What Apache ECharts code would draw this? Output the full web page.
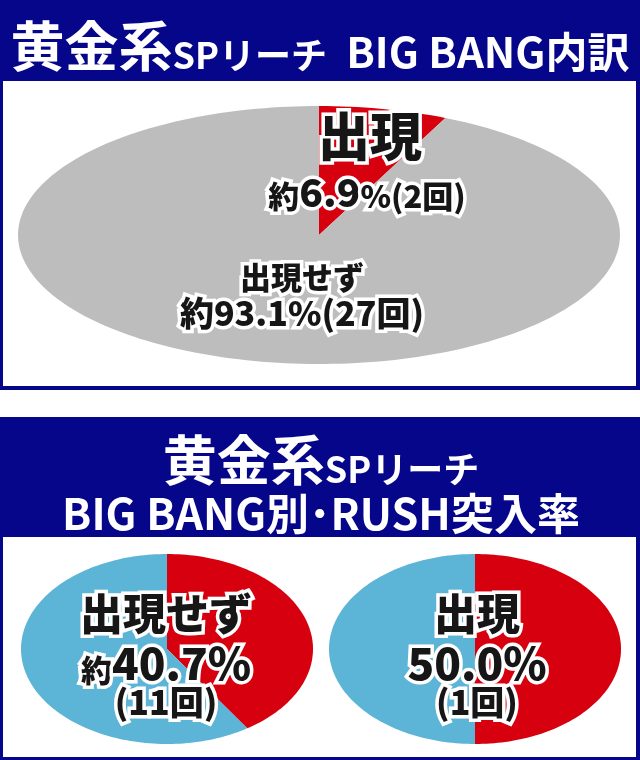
<!DOCTYPE html>
<html>
<head>
<meta charset="utf-8">
<script src="https://cdn.jsdelivr.net/npm/echarts@6/dist/echarts.min.js"></script>
<style>
body{margin:0;background:#fff}
#main{width:640px;height:760px}
</style>
</head>
<body>
<div id="main"></div>
<script>
// data
var topNames = ['出現', '出現せず'];
var topCounts = [2, 27];
var rushNames = ['出現せず', '出現'];
var rushIn = [11, 1];
var rushTotal = [27, 2];

var NAVY = '#06068a', RED = '#d6000f', GRAY = '#bdbdbd', BLUE = '#5cb4d6';
var FONT = "'Noto Sans CJK JP', 'Noto Sans', sans-serif";

function pct(a, b) { return (a / b * 100).toFixed(1); }

function slices(counts, colors) {
	var total = 0, acc = 0;
	counts.forEach(function (c) { total += c; });
	return counts.map(function (c, i) {
		var s = acc / total;
		acc += c;
		return { value: [s, acc / total], itemStyle: { color: colors[i] } };
	});
}

// one slice of an ellipse pie: unit circle in data space, stretched by the grid
function sliceItem(params, api) {
	var start = api.value(0), end = api.value(1);
	var pts = [api.coord([0, 0])];
	var steps = Math.max(2, Math.ceil((end - start) * 240));
	for (var i = 0; i <= steps; i++) {
		var a = 2 * Math.PI * (start + (end - start) * i / steps);
		pts.push(api.coord([Math.sin(a), Math.cos(a)]));
	}
	return { type: 'polygon', shape: { points: pts }, style: { fill: api.visual('color') } };
}

var pies = [
	{ cx: 319, cy: 235, rx: 301, ry: 129, data: slices(topCounts, [RED, GRAY]) },
	{ cx: 167, cy: 649, rx: 146, ry: 95, data: slices([rushIn[0], rushTotal[0] - rushIn[0]], [RED, BLUE]) },
	{ cx: 475, cy: 649, rx: 146, ry: 95, data: slices([rushIn[1], rushTotal[1] - rushIn[1]], [RED, BLUE]) }
];

var grids = [], xAxes = [], yAxes = [], series = [];
pies.forEach(function (p, i) {
	grids.push({ left: p.cx - p.rx, top: p.cy - p.ry, width: p.rx * 2, height: p.ry * 2, containLabel: false });
	xAxes.push({ gridIndex: i, type: 'value', min: -1, max: 1, show: false });
	yAxes.push({ gridIndex: i, type: 'value', min: -1, max: 1, show: false });
	series.push({ type: 'custom', xAxisIndex: i, yAxisIndex: i, renderItem: sliceItem, data: p.data, silent: true });
});

function label(x, y, text, rich) {
	return {
		type: 'text', x: x, y: y, z: 100,
		style: {
			text: text, align: 'center', verticalAlign: 'middle',
			textAlign: 'center', textVerticalAlign: 'middle',
			fill: '#161616', stroke: '#fff', lineWidth: 7,
			fontFamily: FONT, fontWeight: 900, rich: rich
		}
	};
}
function tok(size, weight) {
	return { fontSize: size, fontWeight: weight || 900, fontFamily: FONT, lineHeight: size * 1.15, verticalAlign: 'bottom' };
}

var graphics = [
	{ type: 'rect', shape: { x: 0, y: 0, width: 640, height: 390 }, style: { fill: NAVY } },
	{ type: 'rect', shape: { x: 3, y: 81, width: 633, height: 305 }, style: { fill: '#fff' } },
	{ type: 'rect', shape: { x: 0, y: 417, width: 640, height: 343 }, style: { fill: NAVY } },
	{ type: 'rect', shape: { x: 3, y: 537, width: 633, height: 220 }, style: { fill: '#fff' } },
	{
		type: 'text', x: 320, y: 42, z: 100,
		style: {
			text: '{a|黄金系}{b|SPリーチ}{c|  BIG BANG内訳}', align: 'center', verticalAlign: 'middle',
			textAlign: 'center', textVerticalAlign: 'middle', fill: '#fff',
			rich: { a: tok(54, 'bold'), b: tok(36, 'bold'), c: tok(42, 'bold') }
		}
	},
	{
		type: 'text', x: 321, y: 456, z: 100,
		style: {
			text: '{a|黄金系}{b|SPリーチ}', align: 'center', verticalAlign: 'middle',
			textAlign: 'center', textVerticalAlign: 'middle', fill: '#fff',
			rich: { a: tok(54, 'bold'), b: tok(36, 'bold') }
		}
	},
	{
		type: 'text', x: 321, y: 510, z: 100,
		style: {
			text: '{c|BIG BANG別}{d|･}{c|RUSH突入率}', align: 'center', verticalAlign: 'middle',
			textAlign: 'center', textVerticalAlign: 'middle', fill: '#fff',
			rich: { c: tok(43, 'bold'), d: tok(43, 900) }
		}
	}
];

var topTotal = topCounts[0] + topCounts[1];
// top pie labels
graphics.push(label(370, 132, '{a|' + topNames[0] + '}', { a: tok(52) }));
graphics.push(label(367, 189, '{s|約}{n|' + pct(topCounts[0], topTotal) + '}{s|%(' + topCounts[0] + '回)}', { s: tok(31), n: tok(39) }));
graphics.push(label(302, 275, '{a|' + topNames[1] + '}', { a: tok(31) }));
graphics.push(label(302, 311, '{s|約' + pct(topCounts[1], topTotal) + '%(' + topCounts[1] + '回)}', { s: tok(34) }));

// RUSH pies labels
var rushLabelX = [166, 477];
rushNames.forEach(function (name, i) {
	var x = rushLabelX[i];
	var approx = i === 0 ? '{s|約}' : '';
	graphics.push(label(x, 610, '{a|' + name + '}', { a: tok(43) }));
	graphics.push(label(x, 660, approx + '{n|' + pct(rushIn[i], rushTotal[i]) + '%}', { s: tok(31), n: tok(44) }));
	graphics.push(label(x, 700, '{s|(' + rushIn[i] + '回)}', { s: tok(34) }));
});

var dom = document.getElementById('main');
var myChart = echarts.init(dom);
var option = {
	animation: false,
	grid: grids,
	xAxis: xAxes,
	yAxis: yAxes,
	series: series,
	graphic: graphics
};
myChart.setOption(option, true);
</script>
</body>
</html>
